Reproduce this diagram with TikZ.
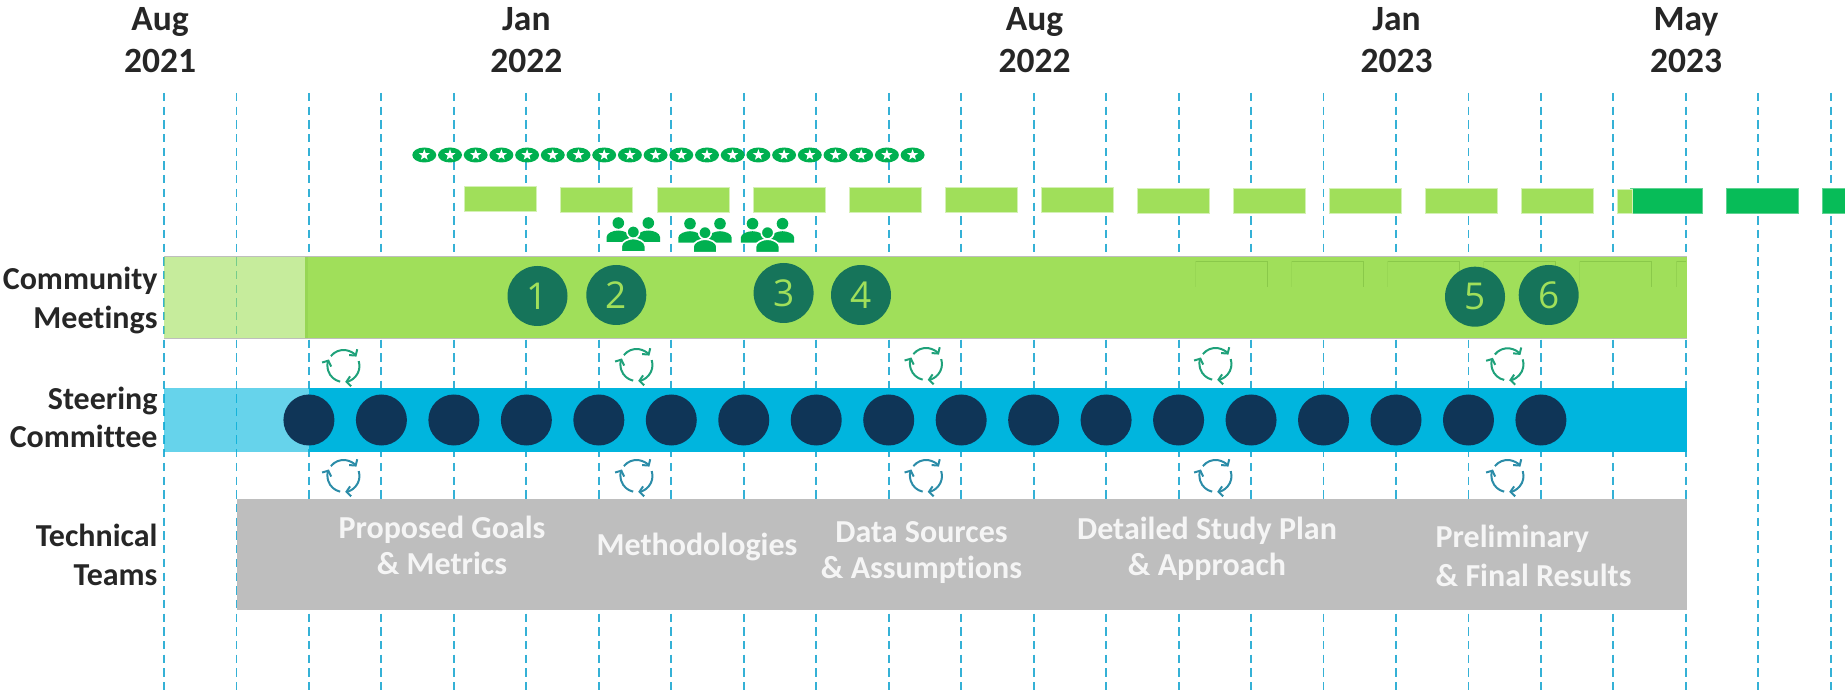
\documentclass[tikz,border=0pt]{standalone}
\usepackage{fontspec}
\setmainfont[Ligatures=NoCommon]{Carlito}
\newfontfamily\numfont{Open Sans}
\usetikzlibrary{shapes.geometric,arrows.meta}
\definecolor{gridblue}{HTML}{35B1D6}
\definecolor{lime}{HTML}{A0DF5A}
\definecolor{limeedge}{HTML}{8AC94A}
\definecolor{skyb}{HTML}{00B5DE}
\definecolor{navy}{HTML}{0F3557}
\definecolor{forest}{HTML}{16745A}
\definecolor{starg}{HTML}{00B050}
\definecolor{darkbar}{HTML}{07BC58}
\definecolor{graybar}{HTML}{BEBEBE}
\definecolor{inktext}{HTML}{262626}
\definecolor{cyclegreen}{HTML}{1FA17A}
\definecolor{cycleteal}{HTML}{2B8CA8}
\tikzset{
  x=1pt,y=-1pt,
  gridline/.style={draw=gridblue,line width=1.9,dash pattern=on 8.3pt off 5.4pt},
  datehead/.style={font=\fontsize{35.5}{42.7}\selectfont\bfseries,text=inktext,align=center,anchor=base,inner sep=0},
  sidelabel/.style={font=\fontsize{32}{38.5}\selectfont\bfseries,text=inktext,align=right,anchor=base east,inner sep=0},
  phase/.style={font=\fontsize{32}{36}\selectfont\bfseries,text=white!96!black,align=center,anchor=base,inner sep=0},
  phaseleft/.style={font=\fontsize{32}{39}\selectfont\bfseries,text=white!96!black,align=left,anchor=base west,inner sep=0},
  numdot/.style={circle,fill=forest,minimum size=60,inner sep=0,text=lime,font=\fontsize{37}{40}\selectfont\numfont},
  navydot/.style={circle,fill=navy,minimum size=51,inner sep=0},
  stardisc/.style={ellipse,fill=starg,minimum width=24,minimum height=15,inner sep=0},
  starmark/.style={star,star points=5,star point ratio=2.4,fill=white,minimum size=11.5,inner sep=0},
  limedash/.style={fill=lime,draw=lime!45!white,line width=.7},
  darkdash/.style={fill=darkbar,draw=darkbar!65!white,line width=.7},
  cyclearc/.style={line width=2,-{Straight Barb[length=4.2pt,width=10pt]}},
  pics/cycle/.style={code={
    \draw[cyclearc,#1] (142:16pt) arc[start angle=142,end angle=36,radius=16pt];
    \draw[cyclearc,#1] (18:16pt) arc[start angle=18,end angle=-84,radius=16pt];
    \draw[cyclearc,#1] (-102:16pt) arc[start angle=-102,end angle=-204,radius=16pt];
  }},
  pics/people/.style={code={
    \fill[starg] (-15,-28) circle[radius=5.8];
    \fill[starg] (15,-28) circle[radius=5.8];
    \fill[starg] (-26.7,-9) -- (-26.7,-14) .. controls (-26.7,-18) and (-20,-20.5) .. (-15,-20.5) .. controls (-10,-20.5) and (-3.3,-18) .. (-3.3,-14) -- (-3.3,-9) -- cycle;
    \fill[starg] (26.7,-9) -- (26.7,-14) .. controls (26.7,-18) and (20,-20.5) .. (15,-20.5) .. controls (10,-20.5) and (3.3,-18) .. (3.3,-14) -- (3.3,-9) -- cycle;
    \draw[white,line width=1.6,fill=starg] (0,-19) circle[radius=6.3];
    \draw[white,line width=1.6,fill=starg] (-12,1) -- (-12,-5) .. controls (-12,-9.5) and (-5,-12.5) .. (0,-12.5) .. controls (5,-12.5) and (12,-9.5) .. (12,-5) -- (12,1) -- cycle;
  }}
}
\begin{document}
\begin{tikzpicture}
\useasboundingbox (0,0) rectangle (1845,692);
% vertical month grid
\foreach \k in {0,...,23}{
  \draw[gridline] ({164+72.47*\k},93) -- ({164+72.47*\k},692);
}
% date heads
\node[datehead] (d1) at (160,73) {Aug\\2021};
\node[datehead] (d2) at (526.4,73) {Jan\\2022};
\node[datehead] (d3) at (1034.5,73) {Aug\\2022};
\node[datehead] (d4) at (1396.5,73) {Jan\\2023};
\node[datehead] (d5) at (1686,73) {May\\2023};
% star row
\foreach \i in {0,...,19}{
  \node[stardisc] (disc\i) at ({424.3+25.7*\i},155) {};
  \node[starmark] (star\i) at (disc\i) {};
}
% dash bars
\foreach \i in {0,...,11}{
  \fill[limedash,draw=lime!45!white] ({464.7+96.1*\i},{186.7+.18*\i}) rectangle ({536.7+96.1*\i},{211.7+.18*\i});
}
\path[darkdash,fill=darkbar] (1630,188.7) rectangle (1702,213.7);
\path[limedash,fill=lime] (1617.7,189) rectangle (1632.7,213.3);
\path[darkdash,fill=darkbar] (1726,188.7) rectangle (1798,213.7);
\path[darkdash,fill=darkbar] (1822.3,188.7) rectangle (1845,213.7);
% people
\pic at (633.3,251) {people};
\pic at (705,251.7) {people};
\pic at (767.5,251.7) {people};
% community bar
\fill[lime,opacity=.6] (164,257) rectangle (306,338);
\fill[lime] (306,257) rectangle (1686.5,338);
\fill[limeedge!40!lime] (305,257) rectangle (307.6,338);
\draw[graybar,line width=1] (164,257) -- (1686.5,257);
\draw[graybar,line width=1] (164,338.3) -- (1686.5,338.3);
\foreach \i in {0,...,4}{
  \draw[limeedge,line width=.9] ({1195+96.1*\i},261.3) -- ({1267+96.1*\i},261.3) -- ({1267+96.1*\i},287.3);
  \draw[limeedge!35!lime,line width=.8] ({1195+96.1*\i},261.3) -- ({1195+96.1*\i},287.3);
}
\draw[limeedge,line width=.9] (1686,261.3) -- (1676.7,261.3);
\draw[limeedge!60!lime,line width=.8] (1676.7,261.3) -- (1676.7,287.3);
\node[numdot] (n1) at (537.5,296) {1};
\node[numdot] (n2) at (616.3,295) {2};
\node[numdot] (n3) at (783.6,293) {3};
\node[numdot] (n4) at (861,295) {4};
\node[numdot] (n5) at (1475,296.7) {5};
\node[numdot] (n6) at (1548.7,295) {6};
% steering bar
\fill[skyb,opacity=.6] (164,388.3) rectangle (309,451.7);
\fill[skyb] (309,388.3) rectangle (1686.5,451.7);
\foreach \k in {2,...,19}{
  \node[navydot] (c\k) at ({164+72.47*\k},420) {};
}
% technical bar
\fill[graybar] (236.7,499) rectangle (1686.5,609.5);
% cycle icons
\foreach \x/\y in {343.5/366,636.5/365,926/364,1215.5/364,1507.5/364.3}{
  \pic at (\x,\y) {cycle=cyclegreen};
}
\foreach \x in {343.5,636.5,926,1215.5,1507.5}{
  \pic at (\x,476) {cycle=cycleteal};
}
% side labels
\node[sidelabel] (l1) at (157.7,328.5) {Community\\Meetings};
\node[sidelabel] (l2) at (157.7,447.5) {Steering\\Committee};
\node[sidelabel] (l3) at (157.7,585) {Technical\\Teams};
% phase labels
\node[phase] (p1) at (442,574) {Proposed Goals\\\& Metrics};
\node[phase] (p2) at (697,555) {Methodologies};
\node[phase] (p3) at (921.5,578) {Data Sources\\\& Assumptions};
\node[phase] (p4) at (1207,575.5) {Detailed Study Plan\\\& Approach};
\node[phaseleft] (p5) at (1435.5,586) {Preliminary\\\& Final Results};
\end{tikzpicture}
\end{document}
